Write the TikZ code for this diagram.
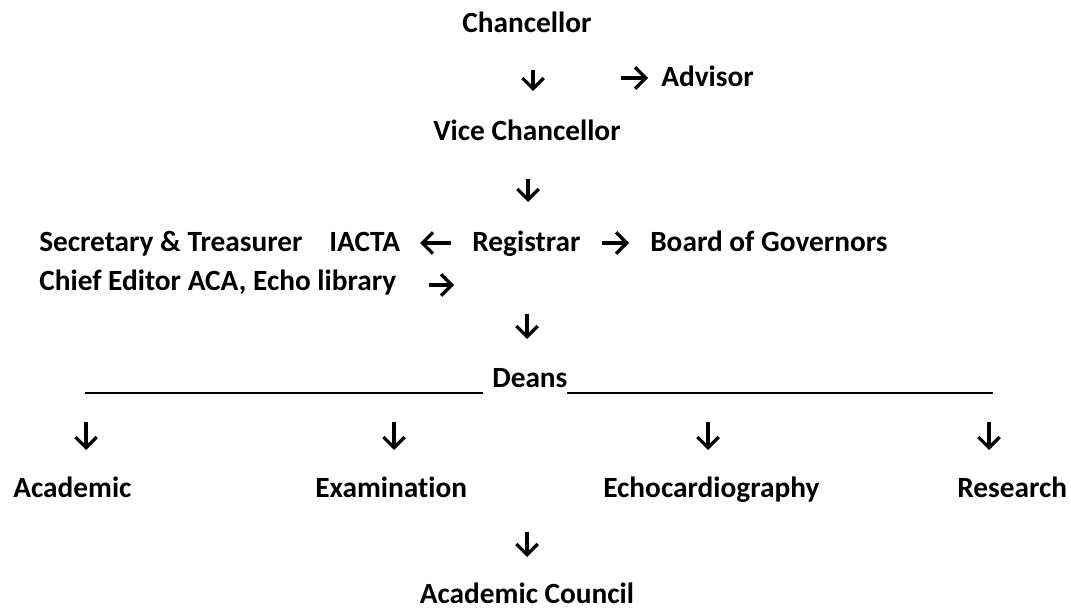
\documentclass[tikz,border=0pt]{standalone}
\usepackage{fontspec}
\setmainfont[Ligatures=NoCommon]{Carlito}
\usepackage{tikz}
\usetikzlibrary{arrows.meta,positioning}

\begin{document}
\begin{tikzpicture}[x=0.75pt,y=-0.75pt,
  lbl/.style={inner sep=0pt,font=\bfseries\fontsize{22}{26}\selectfont},
  arr/.style={-{Straight Barb[length=8pt,width=16pt]},line width=2.5pt}]
  \useasboundingbox (0,0) rectangle (1071,609);
  % top of the chart
  \node[lbl,anchor=base] (chan) at (527,33) {Chancellor};
  \node[lbl,anchor=base west] (adv) at (661,87) {Advisor};
  \node[lbl,anchor=base] (vc) at (527,141) {Vice Chancellor};
  \node[lbl,anchor=base west] (sec) at (39,252) {Secretary \& Treasurer};
  \node[lbl,anchor=base west] (iacta) at (329,252) {IACTA};
  \node[lbl,anchor=base west] (reg) at (472,252) {Registrar};
  \node[lbl,anchor=base west] (board) at (650,252) {Board of Governors};
  \node[lbl,anchor=base west] (chief) at (39,291) {Chief Editor ACA, Echo library};
  \node[lbl,anchor=base west] (deans) at (492,388) {Deans};
  % deans and below
  \node[lbl,anchor=base west] (acad) at (13,497) {Academic};
  \node[lbl,anchor=base west] (exam) at (315,497) {Examination};
  \node[lbl,anchor=base west] (echo) at (603,497) {Echocardiography};
  \node[lbl,anchor=base west] (res) at (957,497) {Research};
  \node[lbl,anchor=base] (council) at (527,603) {Academic Council};
  % arrow ends
  \coordinate (c1) at (533,70);  \coordinate (c2) at (533,91);
  \coordinate (d1) at (621,78);  \coordinate (d2) at (648,78);
  \coordinate (e1) at (528,179); \coordinate (e2) at (528,202);
  \coordinate (f1) at (451,243); \coordinate (f2) at (420,243);
  \coordinate (g1) at (602,243); \coordinate (g2) at (629,243);
  \coordinate (h1) at (429,285); \coordinate (h2) at (454,285);
  \coordinate (k1) at (527,314); \coordinate (k2) at (527,339);
  \coordinate (m1) at (527,532); \coordinate (m2) at (527,557);
  \draw[arr] (c1) -- (c2);
  \draw[arr] (d1) -- (d2);
  \draw[arr] (e1) -- (e2);
  \draw[arr] (f1) -- (f2);
  \draw[arr] (g1) -- (g2);
  \draw[arr] (h1) -- (h2);
  \draw[arr] (k1) -- (k2);
  \draw[arr] (m1) -- (m2);
  \foreach \x/\n in {86/p,394/q,708/r,989/s}{
    \coordinate (\n1) at (\x,422);
    \coordinate (\n2) at (\x,450);
    \draw[arr] (\n1) -- (\n2);
  }
  % the long rule either side of Deans
  \coordinate (l1) at (85,393);  \coordinate (l2) at (483,393);
  \coordinate (r1) at (567,393); \coordinate (r2) at (993,393);
  \draw[line width=2pt] (l1) -- (l2);
  \draw[line width=2pt] (r1) -- (r2);
\end{tikzpicture}
\end{document}
